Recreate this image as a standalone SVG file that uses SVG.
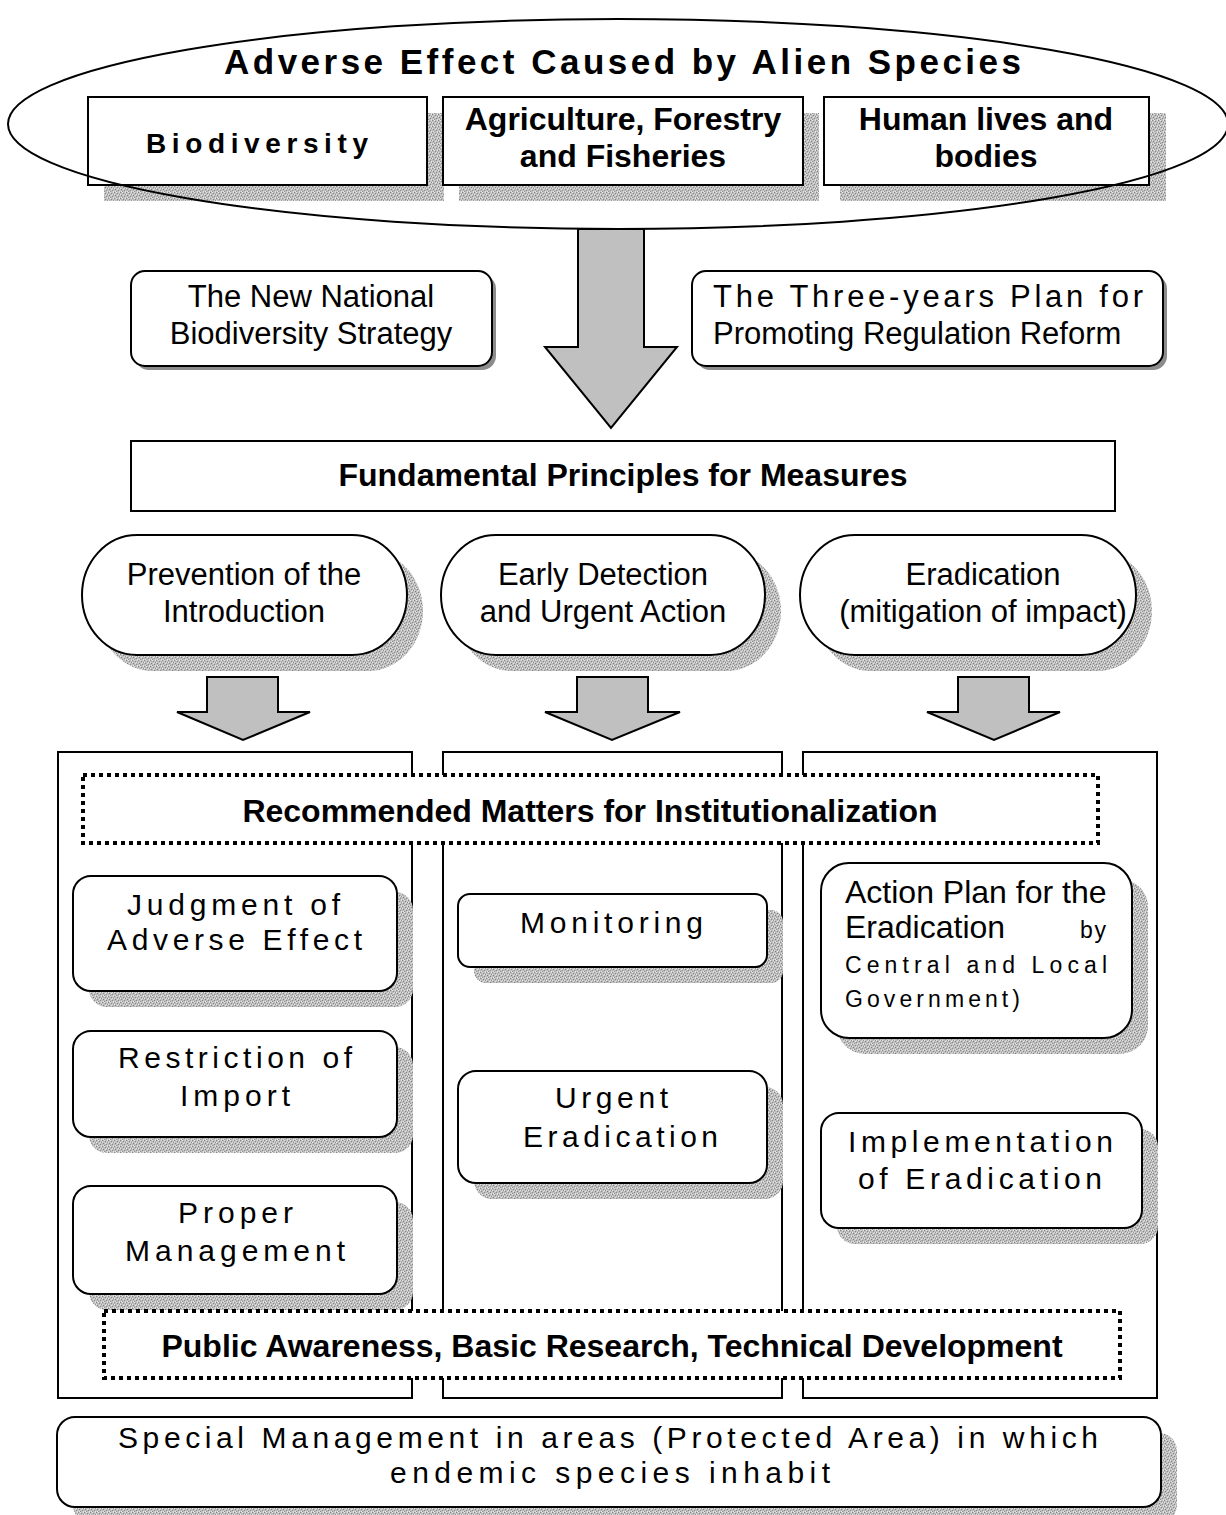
<svg xmlns="http://www.w3.org/2000/svg" width="1226" height="1515" viewBox="0 0 1226 1515">
  <defs>
    <!-- stippled grey used for the drop shadows -->
    <pattern id="stipple" width="6" height="6" patternUnits="userSpaceOnUse">
      <rect width="6" height="6" fill="#bdbdbd"/>
      <rect x="0" y="0" width="1" height="1" fill="#858585"/>
      <rect x="3" y="1" width="1" height="1" fill="#888888"/>
      <rect x="1" y="3" width="1" height="1" fill="#828282"/>
      <rect x="4" y="4" width="1" height="1" fill="#8c8c8c"/>
      <rect x="5" y="2" width="1" height="1" fill="#929292"/>
      <rect x="2" y="5" width="1" height="1" fill="#909090"/>
      <rect x="2" y="0" width="1" height="1" fill="#e6e6e6"/>
      <rect x="5" y="0" width="1" height="1" fill="#e2e2e2"/>
      <rect x="0" y="2" width="1" height="1" fill="#e8e8e8"/>
      <rect x="3" y="3" width="1" height="1" fill="#e4e4e4"/>
      <rect x="1" y="5" width="1" height="1" fill="#e6e6e6"/>
      <rect x="4" y="2" width="1" height="1" fill="#dedede"/>
      <rect x="5" y="5" width="1" height="1" fill="#e0e0e0"/>
    </pattern>
  </defs>
  <style>
    .box { fill: #ffffff; stroke: #000000; stroke-width: 2; }
    .shade { fill: url(#stipple); stroke: none; }
    .dark { fill: #8c8c8c; stroke: none; }
    .frame { fill: none; stroke: #000000; stroke-width: 2; }
    .dotted { fill: #ffffff; stroke: #000000; stroke-width: 4; stroke-dasharray: 4 4; }
    .arrow { fill: #c0c0c0; stroke: #000000; stroke-width: 2; stroke-linejoin: miter; }
    text { font-family: "Liberation Sans", Arial, sans-serif; fill: #000000; }
    .b { font-weight: bold; font-size: 32px; text-anchor: middle; }
    .n { font-size: 31px; text-anchor: middle; }
    .s { font-size: 30px; }
    .sm { font-size: 23px; }
  </style>

  <rect width="1226" height="1515" fill="#ffffff"/>

  <!-- top: three impact boxes inside the ellipse -->
  <g id="biodiversity">
    <rect class="shade" x="104" y="113" width="340" height="88"/>
    <rect class="box" x="88" y="97" width="339" height="88"/>
    <text x="146" y="153" font-weight="bold" font-size="28" textLength="222" lengthAdjust="spacing">Biodiversity</text>
  </g>
  <g id="agriculture">
    <rect class="shade" x="459" y="113" width="360" height="88"/>
    <rect class="box" x="443" y="97" width="360" height="88"/>
    <text class="b" x="623" y="130">Agriculture, Forestry</text>
    <text class="b" x="623" y="167">and Fisheries</text>
  </g>
  <g id="human">
    <rect class="shade" x="840" y="113" width="326" height="88"/>
    <rect class="box" x="824" y="97" width="325" height="88"/>
    <text class="b" x="986" y="130">Human lives and</text>
    <text class="b" x="986" y="167">bodies</text>
  </g>
  <g id="adverse-effect">
    <ellipse cx="618" cy="124" rx="610" ry="105" fill="none" stroke="#000000" stroke-width="2"/>
    <text x="224" y="74" font-weight="bold" font-size="35" textLength="797" lengthAdjust="spacing">Adverse Effect Caused by Alien Species</text>
  </g>

  <!-- policy documents -->
  <g id="strategy">
    <rect class="dark" x="135" y="275" width="361" height="95" rx="14"/>
    <rect class="box" x="131" y="271" width="361" height="95" rx="14"/>
    <text class="n" x="311" y="307">The New National</text>
    <text class="n" x="311" y="344">Biodiversity Strategy</text>
  </g>
  <g id="reform-plan">
    <rect class="dark" x="696" y="275" width="471" height="95" rx="14"/>
    <rect class="box" x="692" y="271" width="471" height="95" rx="14"/>
    <text x="713" y="307" font-size="31" textLength="430" lengthAdjust="spacing">The Three-years Plan for</text>
    <text x="713" y="344" font-size="31">Promoting Regulation Reform</text>
  </g>

  <g id="principles">
    <rect class="box" x="131" y="441" width="984" height="70"/>
    <text class="b" x="623" y="486">Fundamental Principles for Measures</text>
  </g>

  <!-- three measures -->
  <g id="prevention">
    <rect class="shade" x="98" y="551" width="325" height="120" rx="55" ry="60"/>
    <rect class="box" x="82" y="535" width="325" height="120" rx="55" ry="60"/>
    <text class="n" x="244" y="585">Prevention of the</text>
    <text class="n" x="244" y="622">Introduction</text>
  </g>
  <g id="early-detection">
    <rect class="shade" x="457" y="551" width="324" height="120" rx="55" ry="60"/>
    <rect class="box" x="441" y="535" width="324" height="120" rx="55" ry="60"/>
    <text class="n" x="603" y="585">Early Detection</text>
    <text class="n" x="603" y="622">and Urgent Action</text>
  </g>
  <g id="eradication">
    <rect class="shade" x="816" y="551" width="336" height="120" rx="55" ry="60"/>
    <rect class="box" x="800" y="535" width="336" height="120" rx="55" ry="60"/>
    <text class="n" x="983" y="585">Eradication</text>
    <text class="n" x="983" y="622">(mitigation of impact)</text>
  </g>

  <!-- block arrows -->
  <g id="connectors">
    <polygon class="arrow" points="578,229 644,229 644,347 677,347 611,428 545,347 578,347"/>
    <polygon class="arrow" points="207,677 278,677 278,712 310,712 243,740 177,712 207,712"/>
    <polygon class="arrow" points="577,677 648,677 648,712 680,712 612,740 545,712 577,712"/>
    <polygon class="arrow" points="958,677 1029,677 1029,712 1060,712 994,740 927,712 958,712"/>
  </g>

  <!-- column frames -->
  <g id="columns">
    <rect class="frame" x="58" y="752" width="354" height="646"/>
    <rect class="frame" x="443" y="752" width="339" height="646"/>
    <rect class="frame" x="803" y="752" width="354" height="646"/>
  </g>

  <!-- column 1 -->
  <g id="judgment">
    <rect class="shade" x="89" y="892" width="324" height="115" rx="18"/>
    <rect class="box" x="73" y="876" width="324" height="115" rx="18"/>
    <text class="s" x="127" y="915" textLength="213" lengthAdjust="spacing">Judgment of</text>
    <text class="s" x="107" y="950" textLength="255" lengthAdjust="spacing">Adverse Effect</text>
  </g>
  <g id="restriction">
    <rect class="shade" x="89" y="1047" width="324" height="106" rx="18"/>
    <rect class="box" x="73" y="1031" width="324" height="106" rx="18"/>
    <text class="s" x="118" y="1068" textLength="234" lengthAdjust="spacing">Restriction of</text>
    <text class="s" x="180" y="1106" textLength="110" lengthAdjust="spacing">Import</text>
  </g>
  <g id="proper-management">
    <rect class="shade" x="89" y="1202" width="324" height="108" rx="18"/>
    <rect class="box" x="73" y="1186" width="324" height="108" rx="18"/>
    <text class="s" x="178" y="1223" textLength="115" lengthAdjust="spacing">Proper</text>
    <text class="s" x="125" y="1261" textLength="220" lengthAdjust="spacing">Management</text>
  </g>

  <!-- column 2 -->
  <g id="monitoring">
    <rect class="shade" x="474" y="910" width="309" height="73" rx="12"/>
    <rect class="box" x="458" y="894" width="309" height="73" rx="12"/>
    <text class="s" x="520" y="933" textLength="183" lengthAdjust="spacing">Monitoring</text>
  </g>
  <g id="urgent-eradication">
    <rect class="shade" x="474" y="1087" width="309" height="112" rx="18"/>
    <rect class="box" x="458" y="1071" width="309" height="112" rx="18"/>
    <text class="s" x="555" y="1108" textLength="113" lengthAdjust="spacing">Urgent</text>
    <text class="s" x="523" y="1147" textLength="195" lengthAdjust="spacing">Eradication</text>
  </g>

  <!-- column 3 -->
  <g id="action-plan">
    <rect class="shade" x="837" y="879" width="311" height="175" rx="28"/>
    <rect class="box" x="821" y="863" width="311" height="175" rx="28"/>
    <text x="845" y="903" font-size="32">Action Plan for the</text>
    <text x="845" y="938" font-size="32">Eradication</text>
    <text class="sm" x="1080" y="938" textLength="26" lengthAdjust="spacing">by</text>
    <text class="sm" x="845" y="973" textLength="262" lengthAdjust="spacing">Central and Local</text>
    <text class="sm" x="845" y="1007" textLength="175" lengthAdjust="spacing">Government)</text>
  </g>
  <g id="implementation">
    <rect class="shade" x="837" y="1129" width="321" height="115" rx="18"/>
    <rect class="box" x="821" y="1113" width="321" height="115" rx="18"/>
    <text class="s" x="848" y="1152" textLength="265" lengthAdjust="spacing">Implementation</text>
    <text class="s" x="858" y="1189" textLength="244" lengthAdjust="spacing">of Eradication</text>
  </g>

  <!-- cross-column bands -->
  <g id="institutionalization">
    <rect class="dotted" x="83" y="775" width="1015" height="68"/>
    <text class="b" x="590" y="822">Recommended Matters for Institutionalization</text>
  </g>
  <g id="public-awareness">
    <rect class="dotted" x="104" y="1311" width="1016" height="67"/>
    <text class="b" x="612" y="1357">Public Awareness, Basic Research, Technical Development</text>
  </g>

  <!-- protected areas -->
  <g id="special-management">
    <rect class="shade" x="73" y="1433" width="1104" height="90" rx="18"/>
    <rect class="box" x="57" y="1417" width="1104" height="90" rx="18"/>
    <text class="s" x="118" y="1448" textLength="980" lengthAdjust="spacing">Special Management in areas (Protected Area) in which</text>
    <text class="s" x="390" y="1483" textLength="440" lengthAdjust="spacing">endemic species inhabit</text>
  </g>
</svg>
